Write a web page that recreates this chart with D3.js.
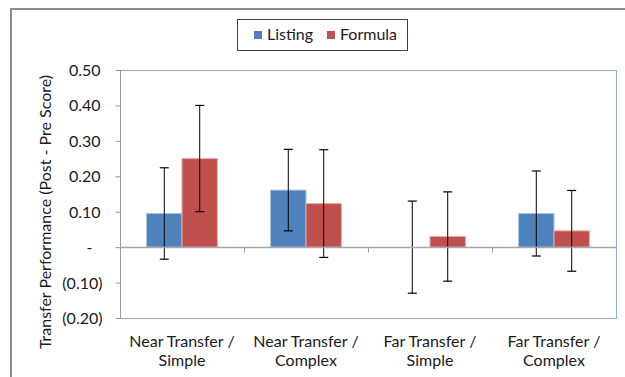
<!DOCTYPE html>
<html>
<head>
<meta charset="utf-8">
<script src="https://cdn.jsdelivr.net/npm/d3@7/dist/d3.min.js"></script>
<style>
  html, body { margin: 0; padding: 0; background: #fff; }
  svg { display: block; }
  text { font-family: Lato, "Liberation Sans", sans-serif; fill: #1a1a1a; }
</style>
</head>
<body>
<svg id="chart" width="625" height="377"></svg>
<script>
// ---- data ----
const categories = ["Near Transfer / Simple", "Near Transfer / Complex", "Far Transfer / Simple", "Far Transfer / Complex"];
const seriesNames = ["Listing", "Formula"];
const listingValues = [0.095, 0.161, 0.0, 0.095];
const formulaValues = [0.25, 0.123, 0.030, 0.046];
const listingErrors = [0.129, 0.115, 0.13, 0.12];
const formulaErrors = [0.15, 0.152, 0.126, 0.114];
const yTicks = [0.5, 0.4, 0.3, 0.2, 0.1, 0, -0.1, -0.2];
const seriesColors = ["#4f81bd", "#c0504d"];
const seriesStrokes = ["#a9c2e0", "#e3aaa9"];

const rows = categories.map((c, i) => ({
  category: c,
  values: [
    { name: seriesNames[0], value: listingValues[i], err: listingErrors[i], idx: 0 },
    { name: seriesNames[1], value: formulaValues[i], err: formulaErrors[i], idx: 1 }
  ]
}));

const svg = d3.select("#chart");
const pLeft = 120, pRight = 616, pTop = 70, pBottom = 318;

// outer chart frame (partially visible)
svg.append("path")
  .attr("d", `M11,377 L11,9 L625,9`)
  .attr("fill", "none")
  .attr("stroke", "#8c8c8c")
  .attr("stroke-width", 2);

const y = d3.scaleLinear().domain([-0.2, 0.5]).range([pBottom, pTop]);
const x0 = d3.scaleBand().domain(categories).range([pLeft, pRight]).paddingInner(0).paddingOuter(0);
const x1 = d3.scaleBand().domain(seriesNames).range([0, x0.bandwidth()]).paddingInner(0).paddingOuter(0.75);

// plot area border
svg.append("rect")
  .attr("x", pLeft + 0.5).attr("y", pTop + 0.5)
  .attr("width", pRight - pLeft).attr("height", pBottom - pTop)
  .attr("fill", "none")
  .attr("stroke", "#86acd9")
  .attr("stroke-width", 1);

// y axis
const fmt = v => {
  if (v === 0) return "-";
  const s = d3.format(".2f")(Math.abs(v));
  return v < 0 ? "(" + s + ")" : s;
};
const yAxis = d3.axisLeft(y).tickValues(yTicks).tickSize(5).tickPadding(0).tickFormat(fmt);
const yg = svg.append("g").attr("transform", `translate(${pLeft + 0.5},0)`).call(yAxis);
yg.select(".domain").attr("stroke", "#9a9a9a").attr("d", `M0,${pTop}V${pBottom}`);
yg.selectAll(".tick line").attr("stroke", "#9a9a9a");
yg.selectAll(".tick text")
  .attr("font-family", "Lato, sans-serif")
  .attr("font-size", 16)
  .attr("fill", "#1a1a1a")
  .attr("dy", "0.34em")
  .attr("x", d => d === 0 ? -28 : (d < 0 ? -18 : -20));

// bars
const groups = svg.append("g").selectAll("g").data(rows).join("g")
  .attr("transform", d => `translate(${x0(d.category)},0)`);

groups.selectAll("rect").data(d => d.values).join("rect")
  .attr("x", d => x1(d.name))
  .attr("y", d => y(Math.max(0, d.value)))
  .attr("width", x1.bandwidth())
  .attr("height", d => Math.abs(y(d.value) - y(0)))
  .attr("fill", d => seriesColors[d.idx])
  .attr("stroke", d => seriesStrokes[d.idx])
  .attr("stroke-width", d => d.value === 0 ? 0 : 1);

// zero line with category ticks
const zeroY = Math.round(y(0)) + 0.5;
svg.append("line")
  .attr("x1", pLeft).attr("x2", pRight)
  .attr("y1", zeroY).attr("y2", zeroY)
  .attr("stroke", "#a6a6a6").attr("stroke-width", 1.5);
svg.append("g").selectAll("line").data(categories.slice(1)).join("line")
  .attr("x1", d => Math.round(x0(d)) + 0.5).attr("x2", d => Math.round(x0(d)) + 0.5)
  .attr("y1", zeroY).attr("y2", zeroY + 5)
  .attr("stroke", "#9a9a9a");

// error bars
const eb = groups.selectAll("g.err").data(d => d.values).join("g").attr("class", "err");
eb.append("line")
  .attr("x1", d => x1(d.name) + x1.bandwidth() / 2)
  .attr("x2", d => x1(d.name) + x1.bandwidth() / 2)
  .attr("y1", d => y(d.value + d.err))
  .attr("y2", d => y(d.value - d.err))
  .attr("stroke", "#000").attr("stroke-width", 1);
["hi", "lo"].forEach(k => {
  eb.append("line")
    .attr("x1", d => x1(d.name) + x1.bandwidth() / 2 - 4.5)
    .attr("x2", d => x1(d.name) + x1.bandwidth() / 2 + 4.5)
    .attr("y1", d => y(k === "hi" ? d.value + d.err : d.value - d.err))
    .attr("y2", d => y(k === "hi" ? d.value + d.err : d.value - d.err))
    .attr("stroke", "#000").attr("stroke-width", 1.2);
});

// x category labels
const xl = svg.append("g").selectAll("text").data(categories).join("text")
  .attr("text-anchor", "middle")
  .attr("font-size", 16);
xl.append("tspan")
  .attr("x", d => x0(d) + x0.bandwidth() / 2).attr("y", 347)
  .text(d => d.split(" / ")[0] + " /");
xl.append("tspan")
  .attr("x", d => x0(d) + x0.bandwidth() / 2).attr("y", 366)
  .text(d => d.split(" / ")[1]);

// y axis title
svg.append("text")
  .attr("transform", "translate(51,212) rotate(-90)")
  .attr("text-anchor", "middle")
  .attr("font-size", 16)
  .text("Transfer Performance (Post - Pre Score)");

// legend
const lg = svg.append("g");
lg.append("rect")
  .attr("x", 237.5).attr("y", 19.5).attr("width", 170).attr("height", 31)
  .attr("fill", "#fff").attr("stroke", "#404040").attr("stroke-width", 1);
const legendX = [254, 327];
seriesNames.forEach((n, i) => {
  lg.append("rect")
    .attr("x", legendX[i]).attr("y", 31).attr("width", 8).attr("height", 8)
    .attr("fill", seriesColors[i]);
  lg.append("text")
    .attr("x", legendX[i] + 13).attr("y", 40)
    .attr("font-size", 16)
    .text(n);
});
</script>
</body>
</html>
